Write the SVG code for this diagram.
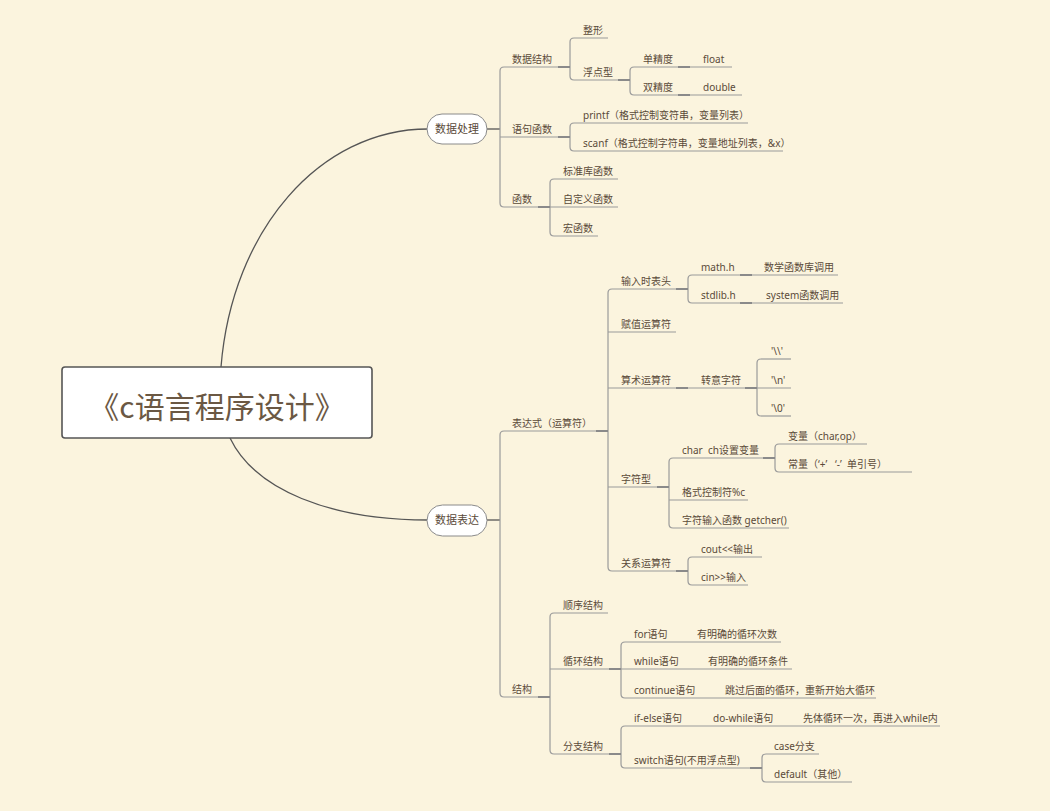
<svg xmlns="http://www.w3.org/2000/svg" width="1050" height="811" viewBox="0 0 1050 811">
<style>
.t{font-family:"Noto Sans","Noto Sans CJK SC",sans-serif;font-size:10px;fill:#5a4a39}
.p{font-family:"Noto Sans CJK SC",sans-serif;font-size:11px;fill:#5a4a39;text-anchor:middle}
.u{stroke:#9a9a9a;stroke-width:1.2;fill:none}
.s{stroke:#7a7a7a;stroke-width:1.8;fill:none}
.b{stroke:#9a9a9a;stroke-width:1.2;fill:none}
.c{stroke:#555;stroke-width:1.3;fill:none}
.pill{fill:#fff;stroke:#8a8a8a;stroke-width:1}
</style>
<rect width="1050" height="811" fill="#fbf4de"/>
<g id="connectors">
<path class="c" d="M221,367 C232,230 320,129 428,129"/>
<path class="c" d="M230,438 C255,490 330,520 428,520"/>
<path class="c" d="M487,129 H500"/>
<path class="c" d="M487,520 H500"/>
<path class="b" d="M504,67 Q500,67 500,71 V203 Q500,207 504,207"/>
<path class="b" d="M574,38 Q570,38 570,42 V76 Q570,80 574,80"/>
<path class="b" d="M634,67 Q630,67 630,71 V91 Q630,95 634,95"/>
<path class="b" d="M574,123 Q570,123 570,127 V147 Q570,151 574,151"/>
<path class="b" d="M554,179 Q550,179 550,183 V232 Q550,236 554,236"/>
<path class="b" d="M504,431 Q500,431 500,435 V693 Q500,697 504,697"/>
<path class="b" d="M612,289 Q608,289 608,293 V567 Q608,571 612,571"/>
<path class="b" d="M692,275 Q688,275 688,279 V299 Q688,303 692,303"/>
<path class="b" d="M761,359 Q757,359 757,363 V412 Q757,416 761,416"/>
<path class="b" d="M673,458 Q669,458 669,462 V524 Q669,528 673,528"/>
<path class="b" d="M779,444 Q775,444 775,448 V468 Q775,472 779,472"/>
<path class="b" d="M692,557 Q688,557 688,561 V581 Q688,585 692,585"/>
<path class="b" d="M554,613 Q550,613 550,617 V750 Q550,754 554,754"/>
<path class="b" d="M625,642 Q621,642 621,646 V694 Q621,698 625,698"/>
<path class="b" d="M625,726 Q621,726 621,730 V764 Q621,768 625,768"/>
<path class="b" d="M766,754 Q762,754 762,758 V778 Q762,782 766,782"/>
<path class="s" d="M558,67 H570 M618,80 H630 M678,67 H690 M678,95 H690 M558,137 H570 M538,207 H550"/>
<path class="s" d="M596,431 H608 M676,289 H688 M676,388 H688 M745,388 H757 M657,487 H669 M763,458 H775 M676,571 H688"/>
<path class="s" d="M740,275 H752 M740,303 H752 M538,697 H550 M609,669 H621 M609,754 H621 M750,768 H762"/>
</g>
<g id="root">
<rect x="62" y="367" width="310" height="71" rx="3" fill="#fff" stroke="#555" stroke-width="1.6"/>
<text x="217" y="418" font-family="Noto Sans CJK SC,sans-serif" font-size="30" fill="#6b5843" text-anchor="middle">《c语言程序设计》</text>
</g>
<g id="n-shujuchuli"><rect class="pill" x="427" y="114" width="60" height="30" rx="15"/><text class="p" x="457" y="133">数据处理</text></g>
<g id="n-shujubiaoda"><rect class="pill" x="427" y="505" width="60" height="31" rx="15.5"/><text class="p" x="457" y="524">数据表达</text></g>

<g id="n-sjjg"><text class="t" x="512" y="63">数据结构</text><path class="u" d="M504,67 H570"/></g>
<g id="n-yjhs"><text class="t" x="512" y="133">语句函数</text><path class="u" d="M500,137 H570"/></g>
<g id="n-hs"><text class="t" x="512" y="203">函数</text><path class="u" d="M504,207 H550"/></g>
<g id="n-zx"><text class="t" x="583" y="34">整形</text><path class="u" d="M574,38 H608"/></g>
<g id="n-fdx"><text class="t" x="583" y="76">浮点型</text><path class="u" d="M574,80 H630"/></g>
<g id="n-djd"><text class="t" x="643" y="63">单精度</text><path class="u" d="M634,67 H690"/></g>
<g id="n-float"><text class="t" x="703" y="63">float</text><path class="u" d="M690,67 H732"/></g>
<g id="n-sjd"><text class="t" x="643" y="91">双精度</text><path class="u" d="M634,95 H690"/></g>
<g id="n-double"><text class="t" x="703" y="91">double</text><path class="u" d="M690,95 H742"/></g>
<g id="n-printf"><text class="t" x="583" y="119">printf（格式控制变符串，变量列表）</text><path class="u" d="M574,123 H748"/></g>
<g id="n-scanf"><text class="t" x="583" y="147">scanf（格式控制字符串，变量地址列表，&amp;x）</text><path class="u" d="M574,151 H783"/></g>
<g id="n-bzk"><text class="t" x="563" y="175">标准库函数</text><path class="u" d="M554,179 H618"/></g>
<g id="n-zdy"><text class="t" x="563" y="203">自定义函数</text><path class="u" d="M550,207 H618"/></g>
<g id="n-hhs"><text class="t" x="563" y="232">宏函数</text><path class="u" d="M554,236 H598"/></g>

<g id="n-bds"><text class="t" x="512" y="427">表达式（运算符）</text><path class="u" d="M504,431 H608"/></g>
<g id="n-jg"><text class="t" x="512" y="693">结构</text><path class="u" d="M504,697 H550"/></g>
<g id="n-srsbt"><text class="t" x="621" y="285">输入时表头</text><path class="u" d="M612,289 H688"/></g>
<g id="n-math"><text class="t" x="701" y="271">math.h</text><path class="u" d="M692,275 H752"/></g>
<g id="n-sxhsk"><text class="t" x="764" y="271">数学函数库调用</text><path class="u" d="M752,275 H838"/></g>
<g id="n-stdlib"><text class="t" x="701" y="299">stdlib.h</text><path class="u" d="M692,303 H752"/></g>
<g id="n-system"><text class="t" x="766" y="299">system函数调用</text><path class="u" d="M752,303 H843"/></g>
<g id="n-fzysf"><text class="t" x="621" y="328">赋值运算符</text><path class="u" d="M608,332 H676"/></g>
<g id="n-ssysf"><text class="t" x="621" y="384">算术运算符</text><path class="u" d="M608,388 H688"/></g>
<g id="n-zyzf"><text class="t" x="701" y="384">转意字符</text><path class="u" d="M688,388 H757"/></g>
<g id="n-bs"><text class="t" x="771" y="355">'\\'</text><path class="u" d="M761,359 H791"/></g>
<g id="n-bn"><text class="t" x="771" y="384">'\n'</text><path class="u" d="M757,388 H791"/></g>
<g id="n-b0"><text class="t" x="771" y="412">'\0'</text><path class="u" d="M761,416 H791"/></g>
<g id="n-zfx"><text class="t" x="621" y="483">字符型</text><path class="u" d="M608,487 H669"/></g>
<g id="n-charch"><text class="t" x="682" y="454" xml:space="preserve">char  ch设置变量</text><path class="u" d="M673,458 H775"/></g>
<g id="n-bl"><text class="t" x="788" y="440">变量（char,op）</text><path class="u" d="M779,444 H867"/></g>
<g id="n-cl"><text class="t" x="788" y="468" xml:space="preserve">常量（‘+’   ‘-’  单引号）</text><path class="u" d="M779,472 H912"/></g>
<g id="n-gskz"><text class="t" x="682" y="496">格式控制符%c</text><path class="u" d="M669,500 H748"/></g>
<g id="n-zfsr"><text class="t" x="682" y="524">字符输入函数 getcher()</text><path class="u" d="M673,528 H789"/></g>
<g id="n-gxysf"><text class="t" x="621" y="567">关系运算符</text><path class="u" d="M612,571 H688"/></g>
<g id="n-cout"><text class="t" x="701" y="553">cout&lt;&lt;输出</text><path class="u" d="M692,557 H762"/></g>
<g id="n-cin"><text class="t" x="701" y="581">cin&gt;&gt;输入</text><path class="u" d="M692,585 H748"/></g>

<g id="n-sxjg"><text class="t" x="563" y="609">顺序结构</text><path class="u" d="M554,613 H608"/></g>
<g id="n-xhjg"><text class="t" x="563" y="665">循环结构</text><path class="u" d="M550,669 H621"/></g>
<g id="n-for"><text class="t" x="634" y="638">for语句</text><path class="u" d="M625,642 H687"/></g>
<g id="n-for2"><text class="t" x="697" y="638">有明确的循环次数</text><path class="u" d="M687,642 H781"/></g>
<g id="n-while"><text class="t" x="634" y="665">while语句</text><path class="u" d="M621,669 H698"/></g>
<g id="n-while2"><text class="t" x="708" y="665">有明确的循环条件</text><path class="u" d="M698,669 H792"/></g>
<g id="n-continue"><text class="t" x="634" y="694">continue语句</text><path class="u" d="M625,698 H715"/></g>
<g id="n-continue2"><text class="t" x="725" y="694">跳过后面的循环，重新开始大循环</text><path class="u" d="M715,698 H876"/></g>
<g id="n-fzjg"><text class="t" x="563" y="750">分支结构</text><path class="u" d="M554,754 H621"/></g>
<g id="n-ifelse"><text class="t" x="634" y="722">if-else语句</text><path class="u" d="M625,726 H703"/></g>
<g id="n-dowhile"><text class="t" x="713" y="722">do-while语句</text><path class="u" d="M703,726 H793"/></g>
<g id="n-dowhile2"><text class="t" x="803" y="722">先体循环一次，再进入while内</text><path class="u" d="M793,726 H940"/></g>
<g id="n-switch"><text class="t" x="634" y="764">switch语句(不用浮点型)</text><path class="u" d="M625,768 H762"/></g>
<g id="n-case"><text class="t" x="774" y="750">case分支</text><path class="u" d="M766,754 H819"/></g>
<g id="n-default"><text class="t" x="774" y="778">default（其他）</text><path class="u" d="M766,782 H852"/></g>
</svg>
